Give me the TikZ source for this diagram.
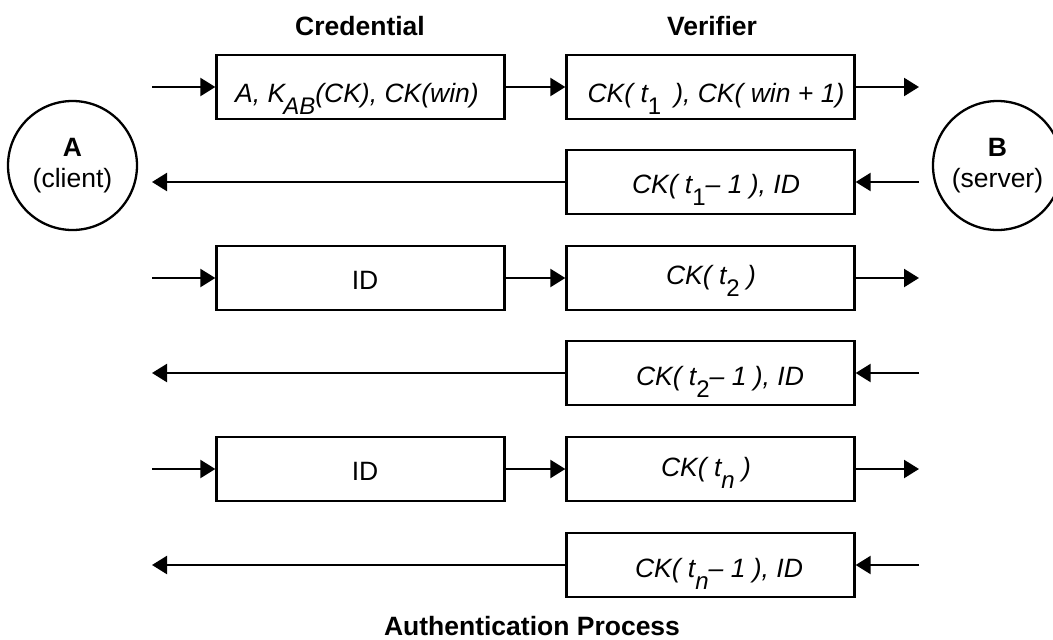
\documentclass[tikz,border=0pt]{standalone}
\usepackage{fontspec}
\setmainfont{Liberation Sans}
\usetikzlibrary{arrows.meta}
\newcommand\lsub[1]{\smash{\raisebox{-12pt}{\fontsize{24}{28}\selectfont #1}}}
\newcommand\dsub[1]{\smash{\raisebox{-12pt}{\fontsize{24}{28}\selectfont\upshape #1}}}
\begin{document}
\begin{tikzpicture}[x=1pt,y=-1pt,
  box/.style={draw, line width=2.3pt, minimum width=288pt, minimum height=64pt, inner sep=0pt},
  lab/.style={font=\fontsize{26.5}{31}\selectfont\itshape, inner sep=0pt, anchor=base},
  plain/.style={font=\fontsize{26.5}{31}\selectfont, inner sep=0pt, anchor=base},
  party/.style={draw, circle, line width=2.3pt, minimum size=129pt, inner sep=0pt, align=center, font=\fontsize{26.5}{31}\selectfont},
  title/.style={font=\fontsize{26.5}{31}\selectfont\bfseries, inner sep=0pt, anchor=base},
  arr/.style={line width=2.3pt, -{Triangle[length=15pt,width=18pt]}}
]
\useasboundingbox (0,0) rectangle (1053,640);

% titles
\node[title] (tc) at (360,35) {Credential};
\node[title] (tv) at (712,35) {Verifier};
\node[title] (tp) at (532,635) {Authentication Process};

% parties
\node[party] (A) at (72.5,165.5) {\textbf{A}\\(client)};
\node[party] (B) at (997.5,165.5) {\textbf{B}\\(server)};

% boxes
\node[box] (b11) at (360.5,87) {};
\node[box] (b12) at (710.5,87) {};
\node[box] (b22) at (710.5,182) {};
\node[box] (b31) at (360.5,278) {};
\node[box] (b32) at (710.5,278) {};
\node[box] (b42) at (710.5,373) {};
\node[box] (b51) at (360.5,469) {};
\node[box] (b52) at (710.5,469) {};
\node[box] (b62) at (710.5,565) {};

% labels
\node[lab] (t11) at (357,102) {A, K\kern-2pt\lsub{AB}(CK), CK(win)};
\node[lab] (t12) at (716,102) {CK( t\dsub{1}\hspace{13pt}), CK( win + 1)};
\node[lab] (t22) at (716,193) {CK( t\dsub{1}– 1 ), ID};
\node[plain] (t31) at (365,289) {ID};
\node[lab] (t32) at (711,284) {CK( t\dsub{2} )};
\node[lab] (t42) at (720,385) {CK( t\dsub{2}– 1 ), ID};
\node[plain] (t51) at (365,480) {ID};
\node[lab] (t52) at (706,476) {CK( t\lsub{n} )};
\node[lab] (t62) at (719,577) {CK( t\lsub{n}– 1 ), ID};

% free ends
\coordinate (L1) at (152,87);  \coordinate (R1) at (919,87);
\coordinate (L2) at (152,182); \coordinate (R2) at (919,182);
\coordinate (L3) at (152,278); \coordinate (R3) at (919,278);
\coordinate (L4) at (152,373); \coordinate (R4) at (919,373);
\coordinate (L5) at (152,469); \coordinate (R5) at (919,469);
\coordinate (L6) at (152,565); \coordinate (R6) at (919,565);

% row 1
\draw[arr] (L1) -- (b11.west);
\draw[arr] (b11.east) -- (b12.west);
\draw[arr] (b12.east) -- (R1);
% row 2
\draw[arr] (R2) -- (b22.east);
\draw[arr] (b22.west) -- (L2);
% row 3
\draw[arr] (L3) -- (b31.west);
\draw[arr] (b31.east) -- (b32.west);
\draw[arr] (b32.east) -- (R3);
% row 4
\draw[arr] (R4) -- (b42.east);
\draw[arr] (b42.west) -- (L4);
% row 5
\draw[arr] (L5) -- (b51.west);
\draw[arr] (b51.east) -- (b52.west);
\draw[arr] (b52.east) -- (R5);
% row 6
\draw[arr] (R6) -- (b62.east);
\draw[arr] (b62.west) -- (L6);
\end{tikzpicture}
\end{document}
